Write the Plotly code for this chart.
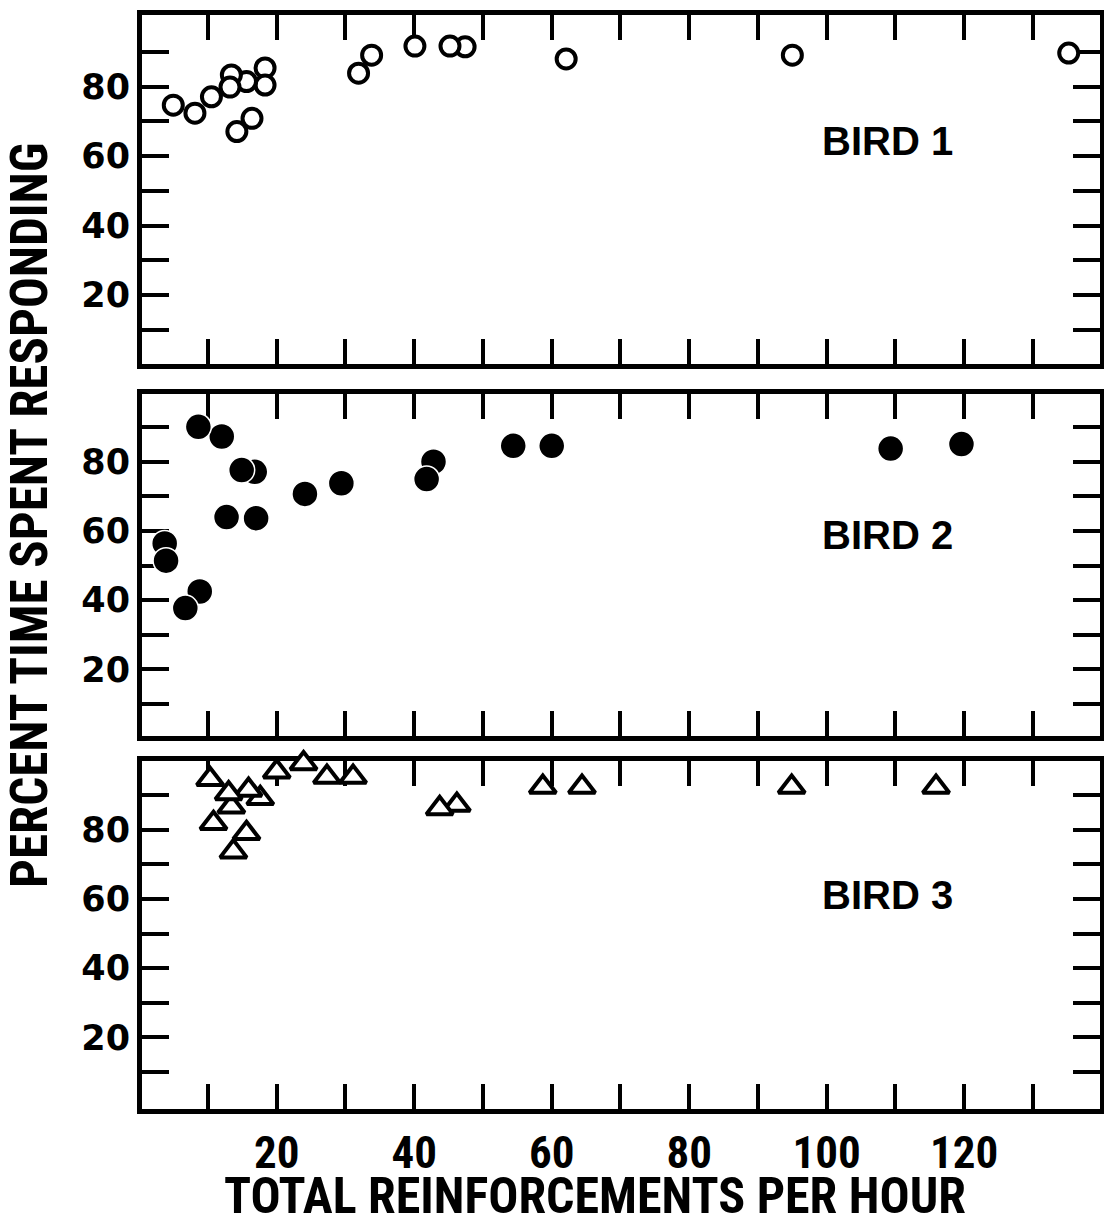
import plotly.graph_objects as go

# ---- data (drawing order: back to front) ----
bird1_x = [135.2, 95.0, 62.1, 47.4, 45.2, 40.1, 33.8, 31.9, 18.3, 18.3, 15.6, 16.4, 14.2, 13.4, 13.2, 10.5, 8.1, 4.95]
bird1_y = [89.7, 89.1, 88.0, 91.5, 91.7, 91.7, 89.1, 83.9, 85.4, 80.5, 81.5, 70.9, 67.1, 83.4, 79.9, 77.1, 72.4, 74.7]

bird2_x = [119.6, 109.3, 60.0, 54.4, 42.8, 41.8, 29.4, 24.1, 16.8, 14.9, 17.0, 12.7, 12.0, 8.6, 8.8, 6.7, 3.7, 3.9]
bird2_y = [85.1, 83.8, 84.6, 84.6, 80.0, 75.0, 73.8, 70.7, 77.1, 77.6, 63.7, 64.0, 87.3, 90.1, 42.5, 37.7, 56.4, 51.4]

bird3_x = [115.9, 94.9, 64.4, 58.7, 46.2, 43.7, 31.1, 27.3, 23.9, 20.0, 17.6, 15.9, 15.6, 13.7, 13.4, 13.0, 10.8, 10.3]
bird3_y = [92.4, 92.4, 92.4, 92.4, 87.2, 86.2, 95.3, 95.3, 99.2, 96.8, 89.1, 91.5, 79.0, 73.7, 86.7, 90.5, 81.9, 94.6]

panel_labels = ["BIRD 1", "BIRD 2", "BIRD 3"]
label_pos_y = [64.4, 58.8, 61.2]
label_pos_x = 108.8

y_tickvals = [10, 20, 30, 40, 50, 60, 70, 80, 90]
y_ticktext = ["", "20", "", "40", "", "60", "", "80", ""]
x_tickvals = [10, 20, 30, 40, 50, 60, 70, 80, 90, 100, 110, 120, 130]
x_ticktext = ["", "20", "", "40", "", "60", "", "80", "", "100", "", "120", ""]

x_title = "TOTAL REINFORCEMENTS PER HOUR"
y_title = "PERCENT TIME SPENT RESPONDING"

# ---- figure ----
fig = go.Figure()

fig.add_trace(go.Scatter(x=bird1_x, y=bird1_y, mode="markers", xaxis="x", yaxis="y",
                         cliponaxis=False,
                         marker=dict(symbol="circle", size=19, color="white",
                                     line=dict(color="black", width=4))))
fig.add_trace(go.Scatter(x=bird2_x, y=bird2_y, mode="markers", xaxis="x2", yaxis="y2",
                         cliponaxis=False,
                         marker=dict(symbol="circle", size=26, color="black",
                                     line=dict(color="white", width=1.5))))
fig.add_trace(go.Scatter(x=bird3_x, y=bird3_y, mode="markers", xaxis="x3", yaxis="y3",
                         cliponaxis=False,
                         marker=dict(symbol="triangle-up", size=23, color="white",
                                     line=dict(color="black", width=4))))

condensed = "Liberation Sans Narrow, Arial Narrow, Roboto Condensed, Liberation Sans, sans-serif"
wide = "DejaVu Sans, Verdana, sans-serif"

domains = [[0.681, 1.0], [0.341, 0.6536], [0.0, 0.3181]]
yranges = [[0.2, 100.65], [0.75, 99.6], [-0.7, 99.9]]
xrange_ = [0.4, 139.75]

layout = dict(
    width=1104, height=1217,
    margin=dict(l=142, r=4, t=15, b=108, autoexpand=False),
    paper_bgcolor="white", plot_bgcolor="white",
    showlegend=False,
)

for i in range(3):
    sx = "" if i == 0 else str(i + 1)
    layout["xaxis" + sx] = dict(
        range=xrange_, domain=[0, 1], anchor="y" + sx,
        showline=True, linewidth=5, linecolor="black", mirror="ticks",
        ticks="inside", ticklen=25, tickwidth=4, tickcolor="black",
        tickvals=x_tickvals, ticktext=x_ticktext,
        showticklabels=(i == 2), showgrid=False, zeroline=False,
        tickfont=dict(family=condensed, size=45, color="black", weight="bold"),
        ticklabelstandoff=0, layer="below traces", fixedrange=True,
        automargin=False,
    )
    layout["yaxis" + sx] = dict(
        range=yranges[i], domain=domains[i], anchor="x" + sx,
        showline=True, linewidth=5, linecolor="black", mirror="ticks",
        ticks="inside", ticklen=27, tickwidth=4, tickcolor="black",
        tickvals=y_tickvals, ticktext=y_ticktext,
        showgrid=False, zeroline=False,
        tickfont=dict(family=wide, size=35, color="black", weight="bold"),
        layer="below traces", fixedrange=True, automargin=False,
    )

fig.update_layout(**layout)

for i, lab in enumerate(panel_labels):
    sx = "" if i == 0 else str(i + 1)
    fig.add_annotation(x=label_pos_x, y=label_pos_y[i], xref="x" + sx, yref="y" + sx,
                       text=lab, showarrow=False,
                       font=dict(family="Liberation Sans, Arial, sans-serif", size=40,
                                 color="black", weight="bold"))

fig.add_annotation(x=(595 - 142) / 958, y=(1109 - 1196) / 1094, xref="paper", yref="paper",
                   text=x_title, showarrow=False, xanchor="center", yanchor="middle",
                   font=dict(family=condensed, size=50, color="black", weight="bold"))
fig.add_annotation(x=(29 - 142) / 958, y=(1109 - 515) / 1094, xref="paper", yref="paper",
                   text=y_title, showarrow=False, textangle=-90, xanchor="center", yanchor="middle",
                   font=dict(family=condensed, size=51, color="black", weight="bold"))

fig.write_html("out.html", config={"displayModeBar": False},
               post_script="document.body.style.margin='0';document.body.style.overflow='hidden';")
